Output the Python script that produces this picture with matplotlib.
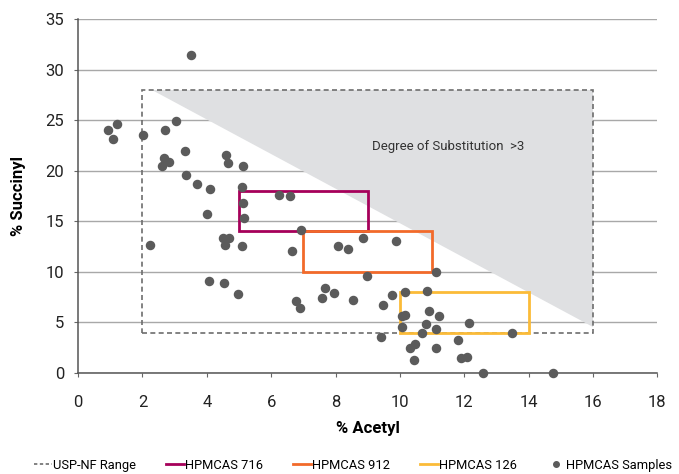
import matplotlib.pyplot as plt
from matplotlib.lines import Line2D
from matplotlib.patches import Rectangle, Polygon

plt.rcParams['font.family'] = ['Roboto', 'DejaVu Sans']

# HPMCAS samples (% acetyl, % succinyl)
acetyl = [0.94, 1.21, 1.07, 2.03, 2.71, 3.05, 3.52, 3.33, 2.67, 2.84, 2.62, 4.59, 4.67,
          5.11, 3.36, 3.69, 4.10, 5.09, 6.25, 6.60, 5.11, 4.00, 5.16, 2.24, 4.50, 4.68,
          4.58, 5.08, 6.64, 6.92, 4.08, 4.52, 4.98, 6.78, 6.91, 8.09, 8.38, 8.86, 9.89,
          11.13, 8.99, 7.67, 7.59, 7.94, 8.55, 9.49, 9.77, 10.16, 10.83, 10.17, 10.08,
          10.91, 11.21, 10.81, 10.08, 11.13, 10.69, 12.15, 13.48, 9.42, 11.82, 10.48,
          10.31, 11.13, 10.45, 11.91, 12.08, 12.59, 14.77]
succinyl = [24.06, 24.59, 23.11, 23.56, 24.03, 24.89, 31.41, 21.98, 21.23, 20.89, 20.50,
            21.52, 20.73, 20.47, 19.55, 18.66, 18.19, 18.39, 17.60, 17.50, 16.84, 15.69,
            15.28, 12.66, 13.35, 13.35, 12.63, 12.59, 12.03, 14.14, 9.13, 8.87, 7.84,
            7.15, 6.46, 12.59, 12.23, 13.35, 13.05, 9.99, 9.56, 8.37, 7.45, 7.94, 7.22,
            6.69, 7.68, 7.98, 8.11, 5.76, 5.67, 6.16, 5.67, 4.84, 4.52, 4.32, 3.93, 4.97,
            3.95, 3.56, 3.23, 2.87, 2.44, 2.47, 1.26, 1.48, 1.55, 0.0, 0.0]

# spec ranges: name, (acetyl min, max), (succinyl min, max), colour
ranges = ['USP-NF Range', 'HPMCAS 716', 'HPMCAS 912', 'HPMCAS 126']
acetyl_ranges = [(2, 16), (5, 9), (7, 11), (10, 14)]
succinyl_ranges = [(4, 28), (14, 18), (10, 14), (4, 8)]
range_colors = ['#6d6d6d', '#a6005a', '#f26a2a', '#fbbb38']

# degree of substitution > 3 region
ds_x = [2.3, 16, 16]
ds_y = [28, 28, 4.6]

fig = plt.figure(figsize=(6.79, 4.74), dpi=100)
ax = fig.add_axes([0.115, 0.213, 0.853, 0.747])

ax.add_patch(Polygon(list(zip(ds_x, ds_y)), closed=True, facecolor='#dfe0e2',
                     edgecolor='none', zorder=1))
ax.text(11.5, 22.4, 'Degree of Substitution  >3', fontsize=9.5, color='#333333',
        ha='center', va='center', zorder=2)

for i, name in enumerate(ranges):
    x0, x1 = acetyl_ranges[i]
    y0, y1 = succinyl_ranges[i]
    if i == 0:
        ax.add_patch(Rectangle((x0, y0), x1 - x0, y1 - y0, fill=False,
                               edgecolor=range_colors[i], linestyle=(0, (3, 2)),
                               linewidth=1.2, zorder=3))
    else:
        ax.add_patch(Rectangle((x0, y0), x1 - x0, y1 - y0, fill=False,
                               edgecolor=range_colors[i], linewidth=2, zorder=3))

ax.scatter(acetyl, succinyl, s=34, color='#5b5b5b', zorder=4, clip_on=False)

ax.set_xlim(0, 18)
ax.set_ylim(0, 35)
ax.set_xticks(range(0, 19, 2))
ax.set_yticks(range(0, 36, 5))
ax.yaxis.grid(True, color='#a8a8a8', linewidth=1)
ax.set_axisbelow(True)
for s in ['top', 'right']:
    ax.spines[s].set_visible(False)
for s in ['left', 'bottom']:
    ax.spines[s].set_color('#555555')
    ax.spines[s].set_linewidth(1.1)
ax.tick_params(labelsize=12, colors='#222222', length=3, color='#666666')
ax.tick_params(axis='x', pad=13)
ax.tick_params(axis='y', pad=7)
ax.set_xlabel('% Acetyl', fontsize=12, fontweight='bold', labelpad=8)
ax.set_ylabel('% Succinyl', fontsize=12, fontweight='bold', labelpad=14)

handles = [Line2D([], [], color=range_colors[0], linestyle=(0, (2, 1.5)), lw=1.2)]
handles += [Line2D([], [], color=c, lw=2) for c in range_colors[1:]]
handles.append(Line2D([], [], color='#5b5b5b', marker='o', linestyle='none', markersize=4))
fig.legend(handles, ranges + ['HPMCAS Samples'], loc='lower center',
           bbox_to_anchor=(0.52, -0.02), ncol=5, frameon=False, fontsize=9.3,
           handlelength=1.4, handletextpad=0.1, columnspacing=2.3)

fig.savefig('out.png', dpi=100)
